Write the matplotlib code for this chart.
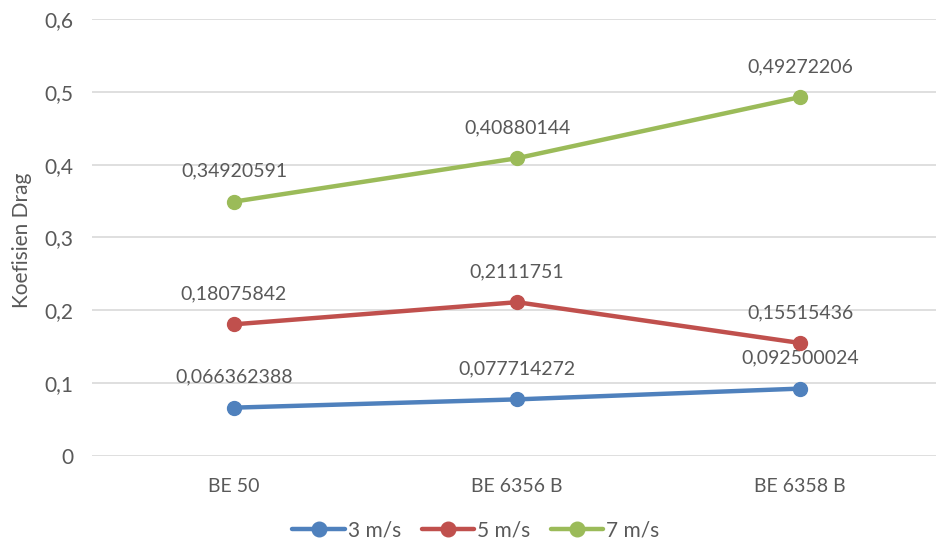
import matplotlib.pyplot as plt

plt.rcParams['font.family'] = ['Lato', 'DejaVu Sans']

# data
categories = ['BE 50', 'BE 6356 B', 'BE 6358 B']
v3 = [0.066362388, 0.077714272, 0.092500024]
v5 = [0.18075842, 0.2111751, 0.15515436]
v7 = [0.34920591, 0.40880144, 0.49272206]
series_names = ['3 m/s', '5 m/s', '7 m/s']
colors = ['#4F81BD', '#C0504D', '#9BBB59']
yticks = [0, 0.1, 0.2, 0.3, 0.4, 0.5, 0.6]
ytick_labels = ['0', '0,1', '0,2', '0,3', '0,4', '0,5', '0,6']

text_color = '#595959'
fs = 14

fig = plt.figure(figsize=(9.37, 5.47), dpi=100)
ax = fig.add_axes([0.0987, 0.1664, 1 - 0.0987, 0.7989])

x = list(range(len(categories)))
for vals, name, c in zip([v3, v5, v7], series_names, colors):
    ax.plot(x, vals, color=c, lw=3.2, marker='o', ms=10, label=name,
            solid_capstyle='round', zorder=3)
    for xi, v in zip(x, vals):
        txt = f'{v:.9g}'.replace('.', ',')
        ax.annotate(txt, (xi, v), xytext=(0, 22), textcoords='offset points',
                    ha='center', va='center', fontsize=fs, color=text_color)

ax.set_xlim(-0.5, 2.484)
ax.set_ylim(0, 0.6)
ax.set_xticks(x)
ax.set_xticklabels(categories)
ax.set_yticks(yticks)
ax.set_yticklabels(ytick_labels)
ax.tick_params(axis='both', length=0, labelsize=fs, colors=text_color)
ax.tick_params(axis='y', pad=14, labelsize=15)
ax.tick_params(axis='x', pad=16)
ax.grid(axis='y', color='#d9d9d9', lw=1.2)
ax.set_axisbelow(True)
for s in ax.spines.values():
    s.set_visible(False)

fig.text(0.024, 0.56, 'Koefisien Drag', rotation=90, ha='center', va='center',
         fontsize=15, color=text_color)

fig.legend(loc='center', bbox_to_anchor=(0.508, 0.03), ncol=3, frameon=False,
           fontsize=15, labelcolor=text_color, handlelength=2.5,
           handletextpad=0.15, columnspacing=1.0, markerscale=1.05)

fig.savefig('out.png', dpi=100)
